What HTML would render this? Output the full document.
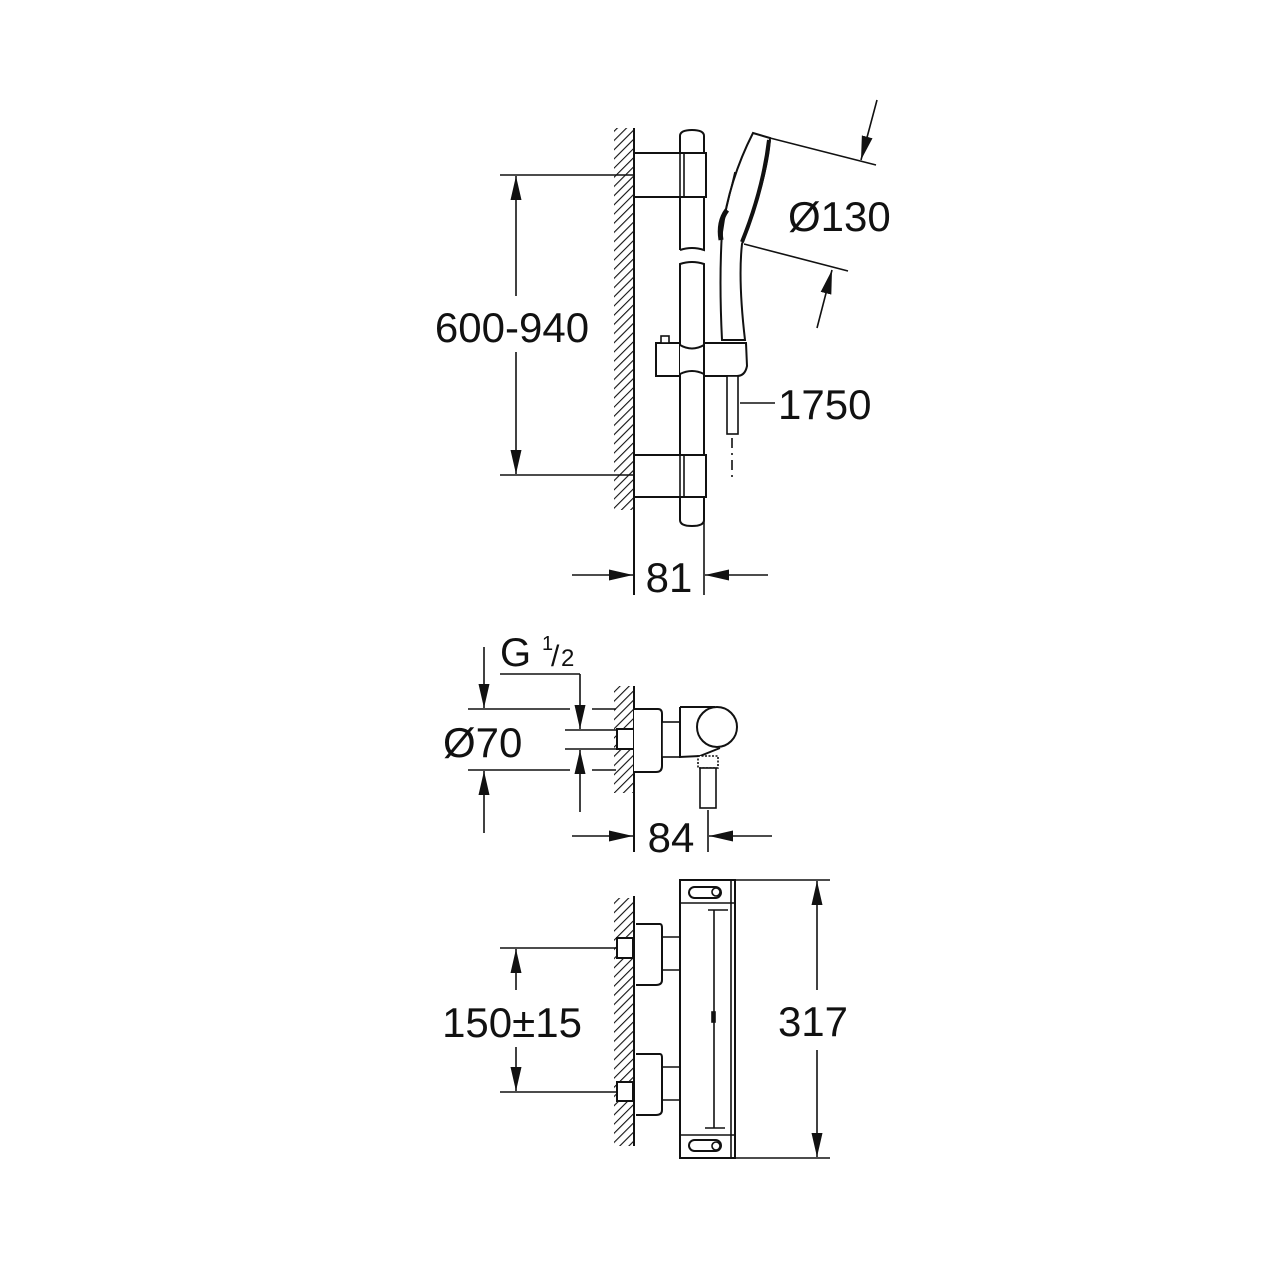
<!DOCTYPE html>
<html><head><meta charset="utf-8"><style>
html,body{margin:0;padding:0;background:#fff;}
svg{display:block;}
text{font-family:"Liberation Sans",Arial,sans-serif;fill:#111;}
</style></head><body>
<svg width="1280" height="1280" viewBox="0 0 1280 1280" xmlns="http://www.w3.org/2000/svg">
<defs>
<pattern id="h" width="6.5" height="6.5" patternUnits="userSpaceOnUse" patternTransform="rotate(45)">
<line x1="0" y1="0" x2="0" y2="6.5" stroke="#111" stroke-width="2.2"/>
</pattern>
<marker id="b" viewBox="0 0 24 12" refX="24" refY="6" markerWidth="24" markerHeight="12" markerUnits="userSpaceOnUse" orient="auto">
<path d="M0,0.5 L24,6 L0,11.5 z" fill="#111"/>
</marker>
</defs>
<g stroke="#111" stroke-width="1.6" fill="none">
<rect x="614" y="128" width="20" height="382" fill="url(#h)" stroke="none"/>
<line x1="634" y1="128" x2="634" y2="595" stroke-width="2"/>
<path d="M680,250 L680,136 Q680,130 692,130 Q704,130 704,136 L704,250 Q692,246 680,250" stroke-width="2"/>
<path d="M680,264 Q692,260 704,264 L704,520 Q704,526 692,526 Q680,526 680,520 Z" stroke-width="2"/>
<rect x="634" y="153" width="72" height="44" fill="#fff" stroke-width="2"/>
<line x1="680" y1="153" x2="680" y2="197"/><line x1="684" y1="153" x2="684" y2="197"/>
<rect x="634" y="455" width="72" height="42" fill="#fff" stroke-width="2"/>
<line x1="680" y1="455" x2="680" y2="497"/><line x1="684" y1="455" x2="684" y2="497"/>
<rect x="656" y="343" width="24" height="33" fill="#fff" stroke-width="2"/>
<rect x="661" y="336" width="8" height="7" fill="#fff"/>
<path d="M680,345 Q692,352 704,345 L704,374 Q692,368 680,374" fill="#fff" stroke-width="2"/>
<path d="M704,343 L746,343 L747,366 Q745,376 737,376 L704,376 Z" fill="#fff" stroke-width="2"/>
<rect x="727" y="376" width="11" height="58" fill="#fff"/>
<line x1="732" y1="438" x2="732" y2="480" stroke-dasharray="10,5,2,5"/>
<line x1="740" y1="403" x2="775" y2="403"/>
<path d="M753,133 L770,138 Q768,175 742,244 Q738,280 745,340 L722,340 Q719,280 722,232 Q729,180 753,133 Z" fill="#fff" stroke-width="2"/>
<path d="M769,140 Q763,190 742,242" stroke-width="4"/>
<path d="M727,210 Q718,222 721,240" stroke-width="5"/>
<line x1="735" y1="172" x2="726" y2="210"/>
<line x1="500" y1="175" x2="634" y2="175"/>
<line x1="500" y1="475" x2="634" y2="475"/>
<line x1="516" y1="296" x2="516" y2="176" marker-end="url(#b)"/>
<line x1="516" y1="352" x2="516" y2="474" marker-end="url(#b)"/>
<line x1="704" y1="510" x2="704" y2="595"/>
<line x1="572" y1="575" x2="633" y2="575" marker-end="url(#b)"/>
<line x1="768" y1="575" x2="705" y2="575" marker-end="url(#b)"/>
<line x1="770" y1="138" x2="876" y2="165"/>
<line x1="744" y1="244" x2="848" y2="271"/>
<line x1="877" y1="100" x2="861" y2="160" marker-end="url(#b)"/>
<line x1="817" y1="328" x2="832" y2="270" marker-end="url(#b)"/>

<rect x="614" y="686" width="20" height="107" fill="url(#h)" stroke="none"/>
<line x1="634" y1="686" x2="634" y2="852" stroke-width="2"/>
<rect x="617" y="729" width="17" height="20" fill="#fff" stroke-width="2"/>
<path d="M634,709 L658,709 Q662,709 662,714 L662,766 Q662,772 656,772 L634,772" fill="#fff" stroke-width="2"/>
<rect x="662" y="722" width="18" height="35" fill="#fff"/>
<path d="M680,707 L715,707 M680,707 L680,757 L700,756 L720,748" stroke-width="2"/>
<circle cx="717" cy="727" r="20" fill="#fff" stroke-width="2"/>
<rect x="698" y="756" width="20" height="12" fill="#fff" stroke-dasharray="2,1.5"/>
<rect x="700" y="768" width="16" height="40" fill="#fff"/>
<line x1="468" y1="709" x2="570" y2="709"/><line x1="592" y1="709" x2="616" y2="709"/>
<line x1="468" y1="770" x2="570" y2="770"/><line x1="592" y1="770" x2="616" y2="770"/>
<line x1="565" y1="730" x2="617" y2="730"/>
<line x1="565" y1="749" x2="617" y2="749"/>
<line x1="500" y1="674" x2="580" y2="674"/>
<line x1="484" y1="647" x2="484" y2="708" marker-end="url(#b)"/>
<line x1="484" y1="833" x2="484" y2="771" marker-end="url(#b)"/>
<line x1="580" y1="674" x2="580" y2="729" marker-end="url(#b)"/>
<line x1="580" y1="812" x2="580" y2="750" marker-end="url(#b)"/>
<line x1="708" y1="810" x2="708" y2="852"/>
<line x1="572" y1="836" x2="633" y2="836" marker-end="url(#b)"/>
<line x1="772" y1="836" x2="709" y2="836" marker-end="url(#b)"/>

<rect x="614" y="898" width="20" height="248" fill="url(#h)" stroke="none"/>
<line x1="634" y1="896" x2="634" y2="1146" stroke-width="2"/>
<rect x="617" y="938" width="16" height="20" fill="#fff" stroke-width="2"/>
<rect x="617" y="1082" width="16" height="19" fill="#fff" stroke-width="2"/>
<path d="M636,924 L660,924 Q662,924 662,928 L662,980 Q662,985 656,985 L636,985" fill="#fff" stroke-width="2"/>
<path d="M636,1054 L660,1054 Q662,1054 662,1058 L662,1110 Q662,1115 656,1115 L636,1115" fill="#fff" stroke-width="2"/>
<line x1="662" y1="937" x2="680" y2="937"/><line x1="662" y1="970" x2="680" y2="970"/>
<line x1="662" y1="1067" x2="680" y2="1067"/><line x1="662" y1="1100" x2="680" y2="1100"/>
<rect x="680" y="880" width="55" height="278" fill="#fff" stroke-width="2"/>
<line x1="680" y1="903" x2="736" y2="903"/>
<line x1="680" y1="1135" x2="736" y2="1135"/>
<line x1="731" y1="880" x2="731" y2="1158"/>
<rect x="689" y="887" width="32" height="11" rx="5.5" stroke-width="2"/><circle cx="716" cy="892" r="4"/>
<rect x="689" y="1140" width="32" height="11" rx="5.5" stroke-width="2"/><circle cx="716" cy="1146" r="4"/>
<line x1="714" y1="910" x2="714" y2="1128"/>
<line x1="708" y1="910" x2="728" y2="910"/><line x1="705" y1="1128" x2="725" y2="1128"/>
<rect x="712" y="1012" width="3" height="10" fill="#111"/>
<line x1="735" y1="880" x2="830" y2="880"/>
<line x1="735" y1="1158" x2="830" y2="1158"/>
<line x1="817" y1="990" x2="817" y2="881" marker-end="url(#b)"/>
<line x1="817" y1="1050" x2="817" y2="1157" marker-end="url(#b)"/>
<line x1="500" y1="948" x2="617" y2="948"/>
<line x1="500" y1="1092" x2="617" y2="1092"/>
<line x1="516" y1="990" x2="516" y2="949" marker-end="url(#b)"/>
<line x1="516" y1="1047" x2="516" y2="1091" marker-end="url(#b)"/>
</g>
<g font-size="42">
<text x="512" y="342" text-anchor="middle">600-940</text>
<text x="788" y="231">Ø130</text>
<text x="778" y="419">1750</text>
<text x="669" y="592" text-anchor="middle">81</text>
<text x="500" y="666" font-size="40">G</text>
<text x="542" y="650" font-size="20">1</text>
<text x="551" y="666" font-size="30">/</text>
<text x="561" y="666" font-size="24">2</text>
<text x="443" y="757">Ø70</text>
<text x="671" y="852" text-anchor="middle">84</text>
<text x="512" y="1037" text-anchor="middle">150±15</text>
<text x="813" y="1036" text-anchor="middle">317</text>
</g>
</svg>
</body></html>
